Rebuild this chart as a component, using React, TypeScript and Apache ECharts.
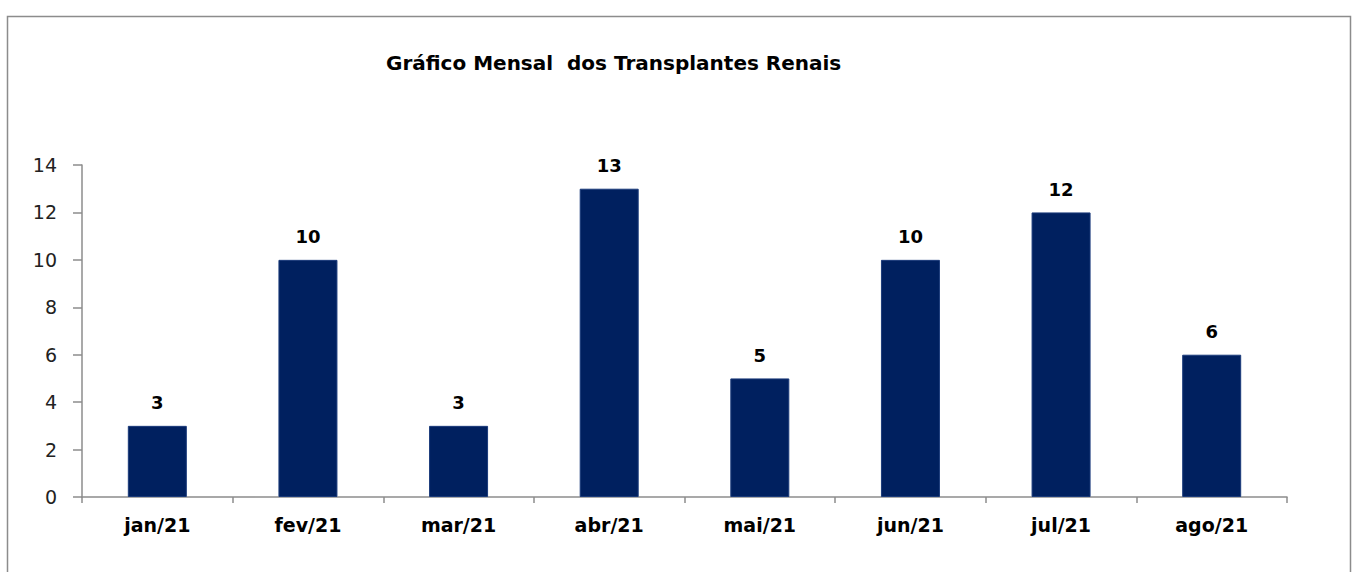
import React, { useEffect, useRef } from "react";
import * as echarts from "echarts";

const categories = ["jan/21", "fev/21", "mar/21", "abr/21", "mai/21", "jun/21", "jul/21", "ago/21"];
const values = [3, 10, 3, 13, 5, 10, 12, 6];
const titleText = "Gráfico Mensal  dos Transplantes Renais";

export default function App() {
  const ref = useRef<HTMLDivElement>(null);
  useEffect(() => {
    if (!ref.current) return;
    const chart = echarts.init(ref.current, undefined, { renderer: "svg" });
    chart.setOption({
      animation: false,
      backgroundColor: "#ffffff",
      title: {
        text: titleText,
        left: 381,
        top: 48,
        textStyle: { fontFamily: "DejaVu Sans", fontWeight: "bold", fontSize: 20, color: "#000" },
      },
      graphic: [
        {
          type: "rect",
          left: 5,
          top: 14,
          shape: { width: 1343, height: 600 },
          style: { fill: "none", stroke: "#8c8c8c", lineWidth: 1.5 },
          silent: true,
        },
      ],
      grid: { left: 82, right: 65, top: 165, bottom: 75 },
      xAxis: {
        type: "category",
        data: categories,
        axisLine: { lineStyle: { color: "#8c8c8c", width: 1.5 } },
        axisTick: { show: true, alignWithLabel: false, length: 6, lineStyle: { color: "#8c8c8c", width: 1.5 } },
        axisLabel: { fontFamily: "DejaVu Sans", fontWeight: "bold", fontSize: 19, color: "#000", margin: 18 },
      },
      yAxis: {
        type: "value",
        min: 0,
        max: 14,
        interval: 2,
        splitLine: { show: false },
        axisLine: { show: true, lineStyle: { color: "#8c8c8c", width: 1.5 } },
        axisTick: { show: true, length: 9, lineStyle: { color: "#8c8c8c", width: 1.5 } },
        axisLabel: { fontFamily: "DejaVu Sans", fontSize: 19, color: "#222", margin: 25 },
      },
      series: [
        {
          type: "bar",
          data: values,
          barWidth: 59,
          itemStyle: { color: "#00205f", borderColor: "#1a3a7a", borderWidth: 1 },
          label: {
            show: true,
            position: "top",
            distance: 14,
            fontFamily: "DejaVu Sans",
            fontWeight: "bold",
            fontSize: 18,
            color: "#000",
          },
        },
      ],
    });
    return () => chart.dispose();
  }, []);
  return (
    <div
      ref={ref}
      style={{ position: "absolute", left: 0, top: 0, width: 1352, height: 572 }}
    />
  );
}
